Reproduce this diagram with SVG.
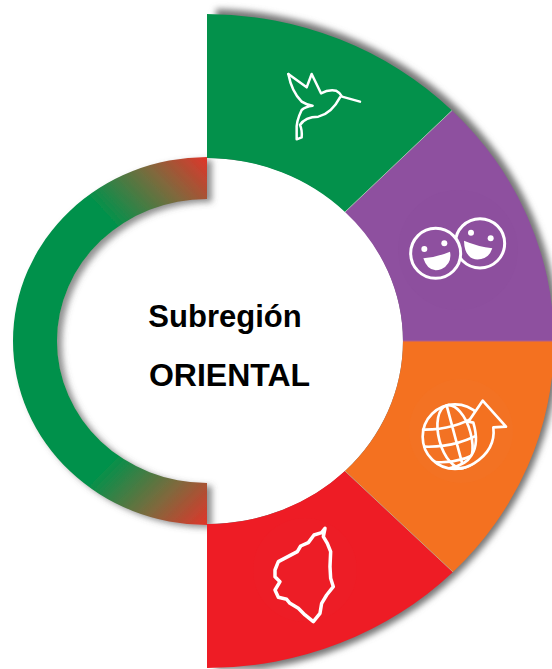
<svg xmlns="http://www.w3.org/2000/svg" width="552" height="669" viewBox="0 0 552 669">
<style>
.ico{fill:none;stroke:#fff;stroke-linecap:round;stroke-linejoin:round}
.sep{fill:none;stroke-width:1}
.label{font-family:"Liberation Sans",Arial,sans-serif;font-weight:700;fill:#000;text-anchor:middle}
</style>
<defs>
<linearGradient id="ringTop" gradientUnits="userSpaceOnUse" x1="207" y1="157" x2="125" y2="235"><stop offset="0" stop-color="#e0352a"/><stop offset=".45" stop-color="#7d6a3d"/><stop offset="1" stop-color="#03914b"/></linearGradient>
<linearGradient id="ringBot" gradientUnits="userSpaceOnUse" x1="207" y1="525" x2="125" y2="447"><stop offset="0" stop-color="#e0352a"/><stop offset=".45" stop-color="#7d6a3d"/><stop offset="1" stop-color="#03914b"/></linearGradient>
<filter id="blur" x="-10%" y="-10%" width="120%" height="120%"><feGaussianBlur stdDeviation="3"/></filter>
<filter id="ringShadow" x="-10%" y="-10%" width="125%" height="120%"><feDropShadow dx="5" dy="3" stdDeviation="3" flood-color="#555" flood-opacity=".65"/></filter>
<clipPath id="shadowSide"><rect x="216" y="0" width="340" height="669"/></clipPath>
</defs>
<rect width="552" height="669" fill="#fff"/>
<g id="outer-shadow" filter="url(#blur)"><g clip-path="url(#shadowSide)"><ellipse cx="208" cy="341" rx="351" ry="332" fill="#777"/></g></g>
<path d="M207,158 A196,183 0 0 1 207,524 Z" fill="#fff"/>
<g id="ring" filter="url(#ringShadow)">
<path fill="url(#ringTop)" d="M207,157 A194,184 0 0 0 13,341 L57,341 A150,142 0 0 1 207,199 Z"/>
<path fill="url(#ringBot)" d="M207,525 A194,184 0 0 1 13,341 L57,341 A150,142 0 0 0 207,483 Z"/>
</g>
<g id="sector-green">
<path fill="#03914b" d="M207,14 A347,327 0 0 1 452,110.5 L345,212 A196,183 0 0 0 207,158 Z"/>
<g class="ico" stroke-width="7.500" transform="translate(260,50) scale(.3333)">
<path d="M85,72 L140,112 L155,72 L183,130 Q205,118 228,122 Q240,128 246,140 L300,155"/>
<path d="M85,72 Q95,125 125,155 Q140,165 158,167 Q135,170 125,180 Q108,215 110,240 L110,268 L125,262 Q127,240 120,225 Q135,200 175,200 Q215,190 240,142"/>
</g>
</g>
<g id="sector-purple">
<path fill="#8e509f" d="M452,110.5 A347,327 0 0 1 554,341 L403,341 A196,183 0 0 0 345,212 Z"/>
<circle cx="458" cy="250" r="60" fill="#8d4f9e"/>
<g transform="translate(395,200) scale(.3333)">
<circle class="ico" cx="255" cy="130" r="74" stroke-width="9"/>
<circle cx="122" cy="160" r="75" fill="#8e509f" stroke="#fff" stroke-width="9"/>
<g fill="#fff">
<circle cx="88" cy="147" r="9"/><circle cx="148" cy="130" r="9"/>
<circle cx="228" cy="98" r="9"/><circle cx="287" cy="115" r="9"/>
<path d="M85,175 Q125,172 165,155 Q172,190 140,207 Q100,222 85,175 Z"/>
<path d="M207,122 Q250,140 292,145 Q280,182 240,178 Q208,170 207,122 Z"/>
</g>
</g>
</g>
<g id="sector-orange">
<path fill="#f47120" d="M554,341 A347,327 0 0 1 453,572 L345,471 A196,183 0 0 0 403,341 Z"/>
<circle cx="461" cy="431" r="52" fill="#f37223"/>
<g transform="translate(400,380) scale(.3333)">
<g class="ico" stroke-width="8">
<circle cx="165" cy="170" r="97"/>
<g transform="rotate(-15 165 170)">
<ellipse cx="165" cy="170" rx="48" ry="97"/>
<path d="M165,73 L165,267 M78,125 Q165,150 252,125 M68,175 Q165,205 262,175 M88,228 Q165,255 242,228"/>
</g>
</g>
<path fill="#f47120" stroke="#fff" stroke-width="8" stroke-linejoin="round" d="M248,62 L318,140 L280,142 Q288,208 222,250 Q190,270 150,264 Q198,255 215,225 Q238,190 220,128 L205,125 Z"/>
</g>
</g>
<g id="sector-red">
<path fill="#ee1c25" d="M453,572 A347,327 0 0 1 207,668 L207,524 A196,183 0 0 0 345,471 Z"/>
<circle cx="305" cy="570" r="52" fill="#ed1d26"/>
<g class="ico" stroke-width="10.500" transform="translate(240,510) scale(.3333)">
<path d="M255,55 L245,68 L222,75 L205,98 L182,108 L172,125 L115,155 L105,180 L105,200 L120,215 L105,240 L115,262 L140,268 L150,280 L175,295 L195,315 L220,335 L240,310 L245,280 L260,255 L280,230 L272,205 L270,170 L272,125 L262,100 L250,80 Z"/>
</g>
</g>
<g id="connectors">
<path class="sep" stroke="#9fc4ab" d="M452,110.5 L345,212"/>
<path class="sep" stroke="#b25f8a" d="M403,341 L552,341"/>
<path class="sep" stroke="#c9a27c" d="M453,572 L345,471"/>
</g>
<g id="center-label">
<text class="label" x="225" y="327" font-size="31">Subregión</text>
<text class="label" x="229.500" y="386" font-size="32">ORIENTAL</text>
</g>
</svg>
